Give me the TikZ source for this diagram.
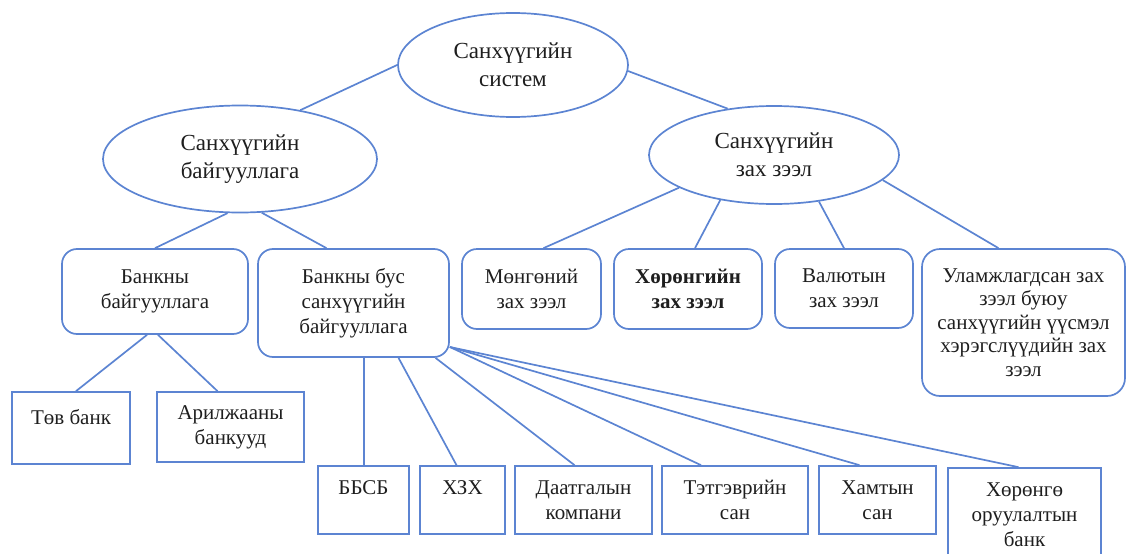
\documentclass[tikz,border=0pt]{standalone}
\usepackage{fontspec}
\setmainfont{Liberation Serif}
\usepackage{tikz}
\usetikzlibrary{calc}
\usetikzlibrary{shapes.geometric}

\definecolor{wordblue}{RGB}{92,132,210}
\definecolor{txtgray}{RGB}{30,30,30}

\begin{document}
\begin{tikzpicture}[x=1pt,y=-1pt,
		line width=1.7pt,
		oval/.style={ellipse, draw=wordblue, inner sep=0pt, align=center, text=txtgray, font=\fontsize{23}{28}\selectfont},
		rbox/.style={rectangle, rounded corners=15pt, draw=wordblue, inner sep=0pt, align=center, text=txtgray, font=\fontsize{21}{25}\selectfont},
		sbox/.style={rectangle, draw=wordblue, inner sep=0pt, align=center, text=txtgray, font=\fontsize{21}{25}\selectfont},
		link/.style={draw=wordblue, line width=1.7pt}]
			\useasboundingbox (0,0) rectangle (1127,554);

			\node[oval, minimum width=230pt, minimum height=104pt] (sys) at (513,65) {Санхүүгийн\\систем};
			\node[oval, minimum width=274pt, minimum height=107pt] (org) at (240,159) {Санхүүгийн\\байгууллага};
			\node[oval, minimum width=250pt, minimum height=98pt] (mkt) at (774,155) {Санхүүгийн\\зах зээл};

			%second row
			\node[rbox, minimum width=186pt, minimum height=85pt] (bank) at (155,291.5) {Банкны\\байгууллага};
			\node[rbox, minimum width=191pt, minimum height=108pt] (bbus) at (353.5,303) {Банкны бус\\санхүүгийн\\байгууллага};
			\node[rbox, minimum width=139pt, minimum height=80pt] (mong) at (531.5,289) {Мөнгөний\\зах зээл};
			\node[rbox, minimum width=148pt, minimum height=80pt] (khor) at (688,289) {\bfseries Хөрөнгийн\\\bfseries зах зээл};
			\node[rbox, minimum width=138pt, minimum height=79pt] (val) at (844,288.5) {Валютын\\зах зээл};
			\node[rbox, rounded corners=18pt, minimum width=203pt, minimum height=147pt, font=\fontsize{21}{23.5}\selectfont] (ulam) at (1023.5,322.5) {Уламжлагдсан зах\\зээл буюу\\санхүүгийн үүсмэл\\хэрэгслүүдийн зах\\зээл};

			%third row
			\node[sbox, minimum width=118pt, minimum height=72pt] (tuv) at (71,428) {Төв банк\\[-2pt]~};
			\node[sbox, minimum width=147pt, minimum height=70pt] (aril) at (230.5,427) {Арилжааны\\банкууд};
			\node[sbox, minimum width=91pt, minimum height=68pt] (bbsb) at (363.5,500) {ББСБ\\~};
			\node[sbox, minimum width=85pt, minimum height=68pt] (khzkh) at (462.5,500) {ХЗХ\\~};
			\node[sbox, minimum width=137pt, minimum height=68pt] (daat) at (583.5,500) {Даатгалын\\компани};
			\node[sbox, minimum width=146pt, minimum height=68pt] (tetg) at (735,500) {Тэтгэврийн\\сан};
			\node[sbox, minimum width=117pt, minimum height=68pt] (khamt) at (877.5,500) {Хамтын\\сан};
			\node[sbox, minimum width=153pt, minimum height=94pt] (khorong) at (1024.5,515) {Хөрөнгө\\оруулалтын\\банк};

			\draw[link] (sys.west) -- (org.39);
			\draw[link] (sys.-3) -- (mkt.135);

			\draw[link] (org.257) -- (bank.north);
			\draw[link] (org.292) -- ([xshift=-27pt]bbus.north);

			\draw[link] (mkt.199) -- ([xshift=12pt]mong.north);
			\draw[link] (mkt.220) -- ([xshift=7pt]khor.north);
			\draw[link] (mkt.314) -- (val.north);
			\draw[link] (mkt.347) -- ([xshift=-25pt]ulam.north);

			\draw[link] ([xshift=-8pt]bank.south) -- ([xshift=5pt]tuv.north);
			\draw[link] ([xshift=3pt]bank.south) -- ([xshift=-13pt]aril.north);

			\draw[link] ([xshift=10.5pt]bbus.south) -- ([xshift=0.5pt]bbsb.north);
			\draw[link] ([xshift=45pt]bbus.south) -- ([xshift=-6pt]khzkh.north);
			\draw[link] ([xshift=82pt]bbus.south) -- ([xshift=-9pt]daat.north);
			\draw[link] ([yshift=-44pt]bbus.east) -- ([xshift=-34pt]tetg.north);
			\draw[link] ([yshift=-44pt]bbus.east) -- ([xshift=-18pt]khamt.north);
			\draw[link] ([yshift=-44pt]bbus.east) -- ([xshift=-6pt]khorong.north);

		\end{tikzpicture}
\end{document}
